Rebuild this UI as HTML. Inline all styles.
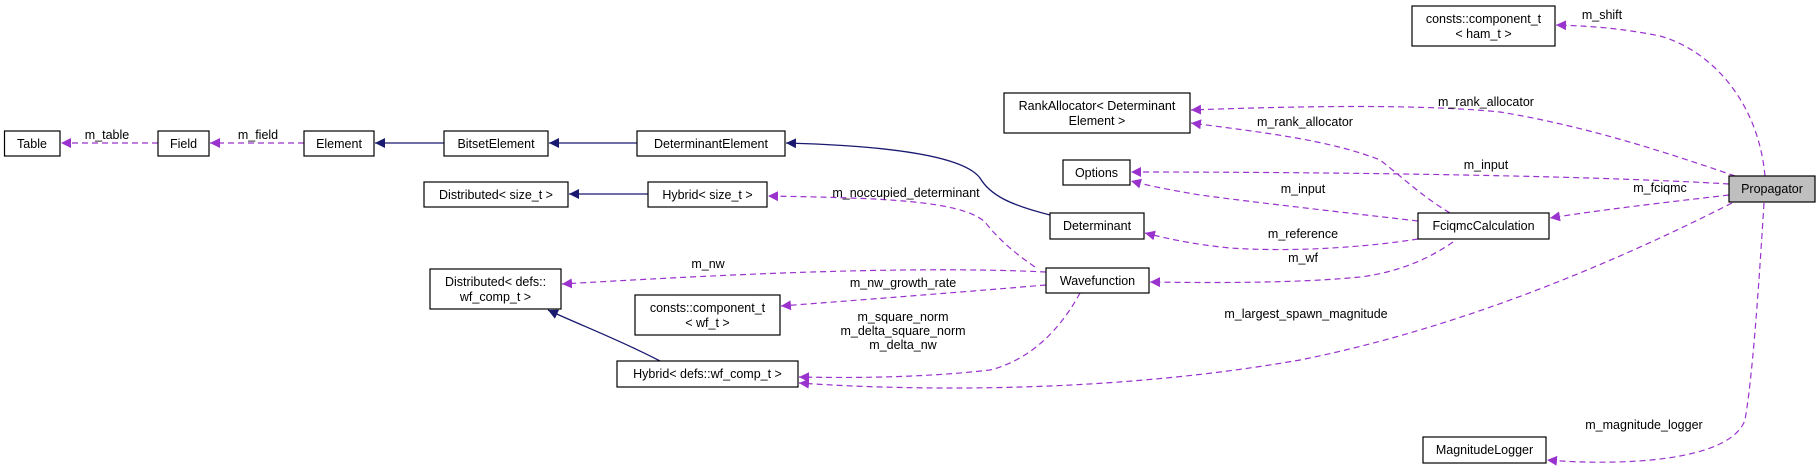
<!DOCTYPE html>
<html><head><meta charset="utf-8"><style>
html,body{margin:0;padding:0;background:#fff}
svg{display:block}
text{font-family:"Liberation Sans",sans-serif;font-size:12.5px;fill:#000}
.b{fill:#fff;stroke:#000;stroke-width:1.2}
.d{fill:none;stroke:#9a32cd;stroke-width:1.2;stroke-dasharray:6,4}
.s{fill:none;stroke:#191970;stroke-width:1.3}
</style></head><body>
<svg width="1820" height="471" viewBox="0 0 1820 471" xmlns="http://www.w3.org/2000/svg">
<defs>
<marker id="p" viewBox="0 0 10 10" refX="10" refY="5" markerWidth="10" markerHeight="10" markerUnits="userSpaceOnUse" orient="auto"><path d="M0,0 L10,5 L0,10 z" fill="#9a32cd"/></marker>
<marker id="n" viewBox="0 0 10 10" refX="10" refY="5" markerWidth="10" markerHeight="10" markerUnits="userSpaceOnUse" orient="auto"><path d="M0,0 L10,5 L0,10 z" fill="#191970"/></marker>
</defs>

<!-- edges -->
<path class="d" d="M158,143 L61,143" marker-end="url(#p)"/>
<path class="d" d="M304,143 L210,143" marker-end="url(#p)"/>
<path class="s" d="M444,143 L375,143" marker-end="url(#n)"/>
<path class="s" d="M637,143 L549,143" marker-end="url(#n)"/>
<path class="s" d="M648,194 L569,194" marker-end="url(#n)"/>
<path class="s" d="M1050,215 C1010,205 990,195 980,178 C965,158 900,146 786,143" marker-end="url(#n)"/>
<path class="s" d="M660,361 C620,340 580,325 548,310" marker-end="url(#n)"/>

<path class="d" d="M1765,176 C1758,100 1710,50 1660,36 C1620,28 1590,26 1556,25" marker-end="url(#p)"/>
<path class="d" d="M1735,176 C1660,150 1580,125 1500,112 C1420,104 1300,106 1191,110" marker-end="url(#p)"/>
<path class="d" d="M1450,213 C1420,195 1400,175 1380,160 C1330,140 1260,132 1191,123" marker-end="url(#p)"/>
<path class="d" d="M1729,184 C1600,176 1350,172 1131,172" marker-end="url(#p)"/>
<path class="d" d="M1418,221 C1340,212 1260,203 1200,195 C1170,190 1150,186 1131,181" marker-end="url(#p)"/>
<path class="d" d="M1729,195 C1660,203 1600,210 1550,218" marker-end="url(#p)"/>
<path class="d" d="M1418,239 C1360,248 1290,252 1230,248 C1190,244 1165,238 1145,233" marker-end="url(#p)"/>
<path class="d" d="M1453,242 C1430,258 1400,272 1360,277 C1300,283 1220,283 1150,282" marker-end="url(#p)"/>
<path class="d" d="M1035,267 C1010,250 995,235 985,222 C960,200 880,198 768,196" marker-end="url(#p)"/>
<path class="d" d="M1046,272 C900,265 700,276 562,284" marker-end="url(#p)"/>
<path class="d" d="M1046,285 C950,293 860,300 781,306" marker-end="url(#p)"/>
<path class="d" d="M1080,293 C1060,330 1030,360 990,370 C920,378 850,378 799,377" marker-end="url(#p)"/>
<path class="d" d="M1732,203 C1600,270 1450,330 1300,360 C1100,395 900,390 799,383" marker-end="url(#p)"/>
<path class="d" d="M1764,203 C1758,300 1752,380 1745,420 C1730,462 1620,466 1547,460" marker-end="url(#p)"/>

<!-- edge labels -->
<g text-anchor="middle">
<text x="107" y="139">m_table</text>
<text x="258" y="139">m_field</text>
<text x="1602" y="19">m_shift</text>
<text x="1486" y="106">m_rank_allocator</text>
<text x="1305" y="126">m_rank_allocator</text>
<text x="1486" y="169">m_input</text>
<text x="1660" y="192">m_fciqmc</text>
<text x="1303" y="193">m_input</text>
<text x="906" y="197">m_noccupied_determinant</text>
<text x="1303" y="238">m_reference</text>
<text x="708" y="268">m_nw</text>
<text x="1303" y="262">m_wf</text>
<text x="903" y="287">m_nw_growth_rate</text>
<text x="903" y="321">m_square_norm</text>
<text x="903" y="335">m_delta_square_norm</text>
<text x="903" y="349">m_delta_nw</text>
<text x="1306" y="318">m_largest_spawn_magnitude</text>
<text x="1644" y="429">m_magnitude_logger</text>
</g>

<!-- nodes -->
<g text-anchor="middle">
<rect class="b" x="4.5" y="131" width="55.5" height="25"/><text x="32" y="148">Table</text>
<rect class="b" x="158" y="131" width="51" height="25"/><text x="183.5" y="148">Field</text>
<rect class="b" x="304" y="131" width="70" height="25"/><text x="339" y="148">Element</text>
<rect class="b" x="444" y="131" width="104" height="25"/><text x="496" y="148">BitsetElement</text>
<rect class="b" x="637" y="131" width="148" height="25"/><text x="711" y="148">DeterminantElement</text>
<rect class="b" x="424" y="182" width="144" height="25"/><text x="496" y="199">Distributed&lt; size_t &gt;</text>
<rect class="b" x="648" y="182" width="119" height="25"/><text x="707.5" y="199">Hybrid&lt; size_t &gt;</text>
<rect class="b" x="430" y="269" width="131" height="40"/><text x="495.5" y="286">Distributed&lt; defs::</text><text x="495.5" y="301">wf_comp_t &gt;</text>
<rect class="b" x="635" y="295" width="145" height="40"/><text x="707.5" y="312">consts::component_t</text><text x="707.5" y="327">&lt; wf_t &gt;</text>
<rect class="b" x="617" y="361" width="181" height="26"/><text x="707.5" y="378">Hybrid&lt; defs::wf_comp_t &gt;</text>
<rect class="b" x="1046" y="268" width="103" height="25"/><text x="1097.5" y="285">Wavefunction</text>
<rect class="b" x="1050" y="213" width="94" height="26"/><text x="1097" y="230">Determinant</text>
<rect class="b" x="1418" y="213" width="131" height="26"/><text x="1483.5" y="230">FciqmcCalculation</text>
<rect class="b" x="1063" y="160" width="67" height="25"/><text x="1096.5" y="177">Options</text>
<rect class="b" x="1004" y="93" width="186" height="40"/><text x="1097" y="110">RankAllocator&lt; Determinant</text><text x="1097" y="125">Element &gt;</text>
<rect class="b" x="1412" y="6" width="143" height="40"/><text x="1483.5" y="23">consts::component_t</text><text x="1483.5" y="38">&lt; ham_t &gt;</text>
<rect x="1729" y="176" width="86" height="26" fill="#bfbfbf" stroke="#000" stroke-width="1.2"/><text x="1772" y="193">Propagator</text>
<rect class="b" x="1423" y="437" width="123" height="26"/><text x="1484.5" y="454">MagnitudeLogger</text>
</g>
</svg>
</body></html>
